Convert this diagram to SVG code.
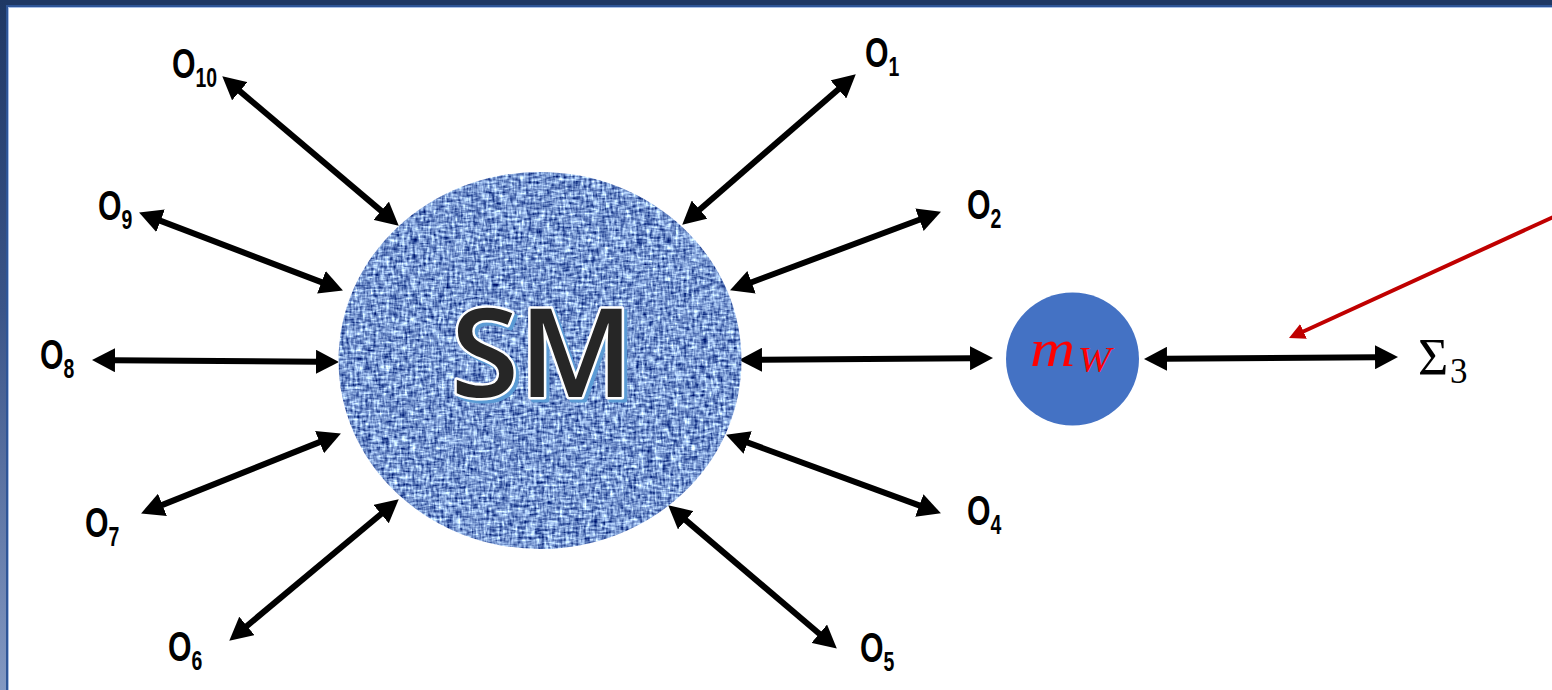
<svg xmlns="http://www.w3.org/2000/svg" width="1552" height="690" viewBox="0 0 1552 690">
  <style>
    .lbl { font-family: "Liberation Sans", Arial, sans-serif; font-weight: bold; font-size: 42px; fill: #000; }
    .sub { font-size: 27px; }
    .arr { stroke: #000; stroke-width: 6; fill: none; marker-start: url(#head); marker-end: url(#head); }
    .red { stroke: #c00000; stroke-width: 4; fill: none; marker-end: url(#headRed); }
    .math { font-family: "Liberation Serif", "Times New Roman", serif; }
  </style>
  <defs>
    <marker id="head" markerUnits="userSpaceOnUse" markerWidth="26" markerHeight="24" refX="2" refY="12" orient="auto-start-reverse">
      <path d="M0,0 L23,12 L0,24 z" fill="#000"/>
    </marker>
    <marker id="headRed" markerUnits="userSpaceOnUse" markerWidth="18" markerHeight="16" refX="2" refY="8" orient="auto">
      <path d="M0,0 L16,8 L0,16 z" fill="#c00000"/>
    </marker>
    <linearGradient id="sideBand" x1="0" y1="0" x2="0" y2="1">
      <stop offset="0" stop-color="#1f3864"/>
      <stop offset="0.45" stop-color="#3a5488"/>
      <stop offset="1" stop-color="#8398c2"/>
    </linearGradient>
    <!-- woven fabric look for the SM disc -->
    <filter id="weave" x="0" y="0" width="100%" height="100%" color-interpolation-filters="sRGB">
      <feTurbulence type="fractalNoise" baseFrequency="0.38 0.11" numOctaves="2" seed="3" result="n1"/>
      <feTurbulence type="fractalNoise" baseFrequency="0.11 0.38" numOctaves="2" seed="11" result="n2"/>
      <feComposite in="n1" in2="n2" operator="arithmetic" k2="0.5" k3="0.5" result="n"/>
      <feColorMatrix in="n" type="matrix" values="1.9 0 0 0 -0.47  1.9 0 0 0 -0.35  1.4 0 0 0 0.12  0 0 0 0 1" result="c"/>
      <feComposite in="c" in2="SourceGraphic" operator="in"/>
    </filter>
  </defs>

  <!-- page -->
  <rect x="0" y="0" width="1552" height="690" fill="#ffffff"/>
  <g id="frame">
    <rect x="0" y="0" width="1552" height="6" fill="#1f3864"/>
    <rect x="0" y="5" width="1552" height="2" fill="#2e5597"/>
    <rect x="0" y="7" width="1552" height="1" fill="#a9bfe6"/>
    <rect x="0" y="0" width="6" height="690" fill="url(#sideBand)"/>
    <rect x="6" y="5" width="2" height="685" fill="#2e5597"/>
    <rect x="8" y="7" width="1" height="683" fill="#a9bfe6"/>
  </g>

  <!-- connectors -->
  <g id="connectors">
    <line class="arr" x1="238.3" y1="89.9" x2="382.7" y2="212.1"/>
    <line class="arr" x1="698.1" y1="210.9" x2="839.9" y2="88.1"/>
    <line class="arr" x1="158.7" y1="220.1" x2="323.3" y2="282.9"/>
    <line class="arr" x1="749.7" y1="283.0" x2="921.3" y2="219.0"/>
    <line class="arr" x1="113" y1="360.2" x2="318" y2="361.8"/>
    <line class="arr" x1="760" y1="359.8" x2="972" y2="358.2"/>
    <line class="arr" x1="160.6" y1="505.6" x2="321.4" y2="441.4"/>
    <line class="arr" x1="745.8" y1="441.9" x2="921.2" y2="506.1"/>
    <line class="arr" x1="245.4" y1="627.2" x2="382.6" y2="512.8"/>
    <line class="arr" x1="684.2" y1="518.9" x2="820.8" y2="635.0"/>
    <line class="arr" x1="1165" y1="358.8" x2="1377" y2="357.2"/>
    <line class="red" x1="1562" y1="213" x2="1301.7" y2="332.2"/>
  </g>

  <!-- central SM node -->
  <g id="node-sm">
    <ellipse cx="540" cy="360.5" rx="201.5" ry="188.5" fill="#6f8fca" filter="url(#weave)"/>
    <text x="545" y="400" text-anchor="middle" font-family="'Open Sans', 'Liberation Sans', sans-serif" font-weight="600" font-size="124" fill="#5b9bd5" stroke="#5b9bd5" stroke-width="5" stroke-linejoin="round">SM</text>
    <text x="542" y="397" text-anchor="middle" font-family="'Open Sans', 'Liberation Sans', sans-serif" font-weight="600" font-size="124" fill="#262626" stroke="#ffffff" stroke-width="5" stroke-linejoin="round" paint-order="stroke">SM</text>
  </g>

  <!-- mW node -->
  <g id="node-mw">
    <circle cx="1072.5" cy="359" r="66.5" fill="#4472c4"/>
    <text class="math" fill="#ff0000" font-style="italic" font-size="52" transform="translate(1030,366) scale(1.2,1)">m</text>
    <text class="math" fill="#ff0000" font-style="italic" font-size="36" transform="translate(1078,372) scale(1.1,1)">W</text>
  </g>

  <!-- Sigma_3 node -->
  <g id="node-sigma3">
    <text class="math" fill="#000" font-size="52" x="1418" y="375">Σ</text>
    <text class="math" fill="#000" font-size="35" x="1450" y="383">3</text>
  </g>

  <!-- outer nodes O1..O10 -->
  <g id="node-o1"><text class="lbl" transform="translate(865,67) scale(0.72,1)">O<tspan class="sub" dy="9">1</tspan></text></g>
  <g id="node-o2"><text class="lbl" transform="translate(967,219) scale(0.72,1)">O<tspan class="sub" dy="9">2</tspan></text></g>
  <g id="node-o4"><text class="lbl" transform="translate(967,525) scale(0.72,1)">O<tspan class="sub" dy="9">4</tspan></text></g>
  <g id="node-o5"><text class="lbl" transform="translate(860,662) scale(0.72,1)">O<tspan class="sub" dy="9">5</tspan></text></g>
  <g id="node-o6"><text class="lbl" transform="translate(168,661) scale(0.72,1)">O<tspan class="sub" dy="9">6</tspan></text></g>
  <g id="node-o7"><text class="lbl" transform="translate(85,537) scale(0.72,1)">O<tspan class="sub" dy="9">7</tspan></text></g>
  <g id="node-o8"><text class="lbl" transform="translate(40,369) scale(0.72,1)">O<tspan class="sub" dy="9">8</tspan></text></g>
  <g id="node-o9"><text class="lbl" transform="translate(98,220) scale(0.72,1)">O<tspan class="sub" dy="9">9</tspan></text></g>
  <g id="node-o10"><text class="lbl" transform="translate(172,78) scale(0.72,1)">O<tspan class="sub" dy="9">10</tspan></text></g>
</svg>
